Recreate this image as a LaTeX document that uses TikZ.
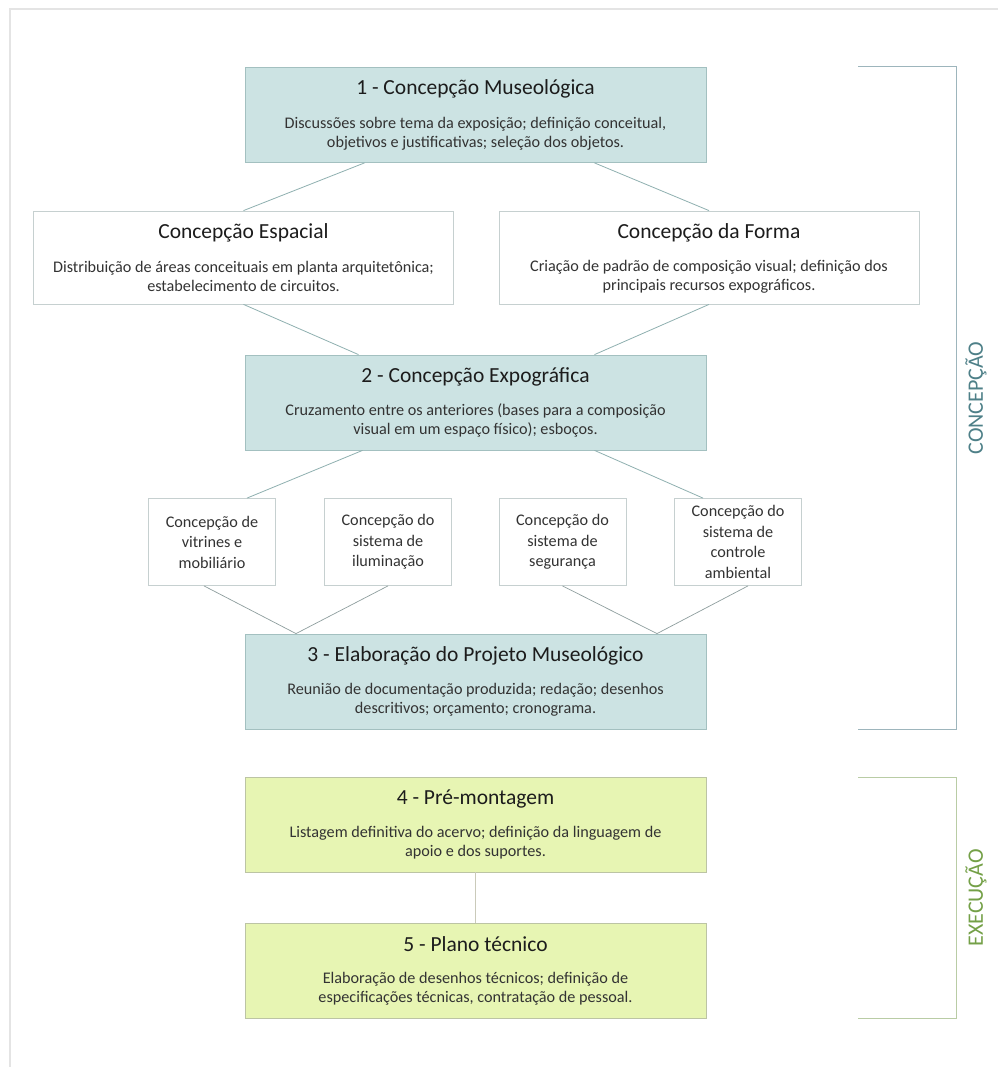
\documentclass[tikz,border=0pt]{standalone}
\usepackage{fontspec}
\setmainfont{Carlito}
\definecolor{bluefill}{HTML}{CCE3E3}
\definecolor{bluebd}{HTML}{A3C0C0}
\definecolor{greenfill}{HTML}{E7F5B3}
\definecolor{greenbd}{HTML}{BCC4A4}
\definecolor{whitebd}{HTML}{C6D0D0}
\definecolor{linkc}{HTML}{8FB0B0}
\definecolor{linkd}{HTML}{8E9E9E}
\definecolor{linke}{HTML}{CACABA}
\definecolor{framec}{HTML}{E4E4E4}
\definecolor{brkblue}{HTML}{9DB5BC}
\definecolor{brkgreen}{HTML}{B9CCA5}
\definecolor{conctxt}{HTML}{4E8088}
\definecolor{exectxt}{HTML}{74A047}
\definecolor{titletxt}{HTML}{1C1C1C}
\definecolor{bodytxt}{HTML}{333333}
\begin{document}
\begin{tikzpicture}[x=1pt,y=-1pt,
  boxbase/.style={inner sep=0pt, line width=0.8pt},
  bluebox/.style={boxbase, draw=bluebd, fill=bluefill, minimum width=461pt, minimum height=95pt},
  greenbox/.style={boxbase, draw=greenbd, fill=greenfill, minimum width=461pt, minimum height=95pt},
  widebox/.style={boxbase, draw=whitebd, fill=white, minimum width=420pt, minimum height=93pt},
  smallbox/.style={boxbase, draw=whitebd, fill=white, minimum width=127pt, minimum height=87pt,
     align=center, text=bodytxt, font=\fontsize{16.2}{20.5}\selectfont},
  titletext/.style={inner sep=0pt, text=titletxt, font=\fontsize{21.5}{25}\selectfont},
  bodytext/.style={inner sep=0pt, align=center, text=bodytxt, font=\fontsize{16.2}{19}\selectfont},
  linkup/.style={draw=linkc, line width=0.8pt},
  linklow/.style={draw=linkd, line width=0.7pt},
  brk/.style={line width=1pt},
  brklabel/.style={inner sep=0pt, rotate=90, font=\fontsize{22}{26}\selectfont}
]
\useasboundingbox (0,0) rectangle (998,1067);
\fill[white] (0,0) rectangle (998,1067);
\draw[framec, line width=1.6pt] (10,1067) -- (10,9) -- (998,9);

% boxes
\node[bluebox] (b1) at (475.5,115) {};
\node[titletext] (b1t) at ([yshift=-22pt]b1.north) {1 - Concepção Museológica};
\node[bodytext] (b1b) at ([yshift=-67pt]b1.north) {Discussões sobre tema da exposição; definição conceitual,\\objetivos e justificativas; seleção dos objetos.};

\node[widebox] (esp) at (243.5,257.5) {};
\node[titletext] (espt) at ([yshift=-22pt]esp.north) {Concepção Espacial};
\node[bodytext] (espb) at ([yshift=-66pt]esp.north) {Distribuição de áreas conceituais em planta arquitetônica;\\estabelecimento de circuitos.};

\node[widebox] (forma) at (709,257.5) {};
\node[titletext] (format) at ([yshift=-22pt]forma.north) {Concepção da Forma};
\node[bodytext] (formab) at ([yshift=-66pt]forma.north) {Criação de padrão de composição visual; definição dos\\principais recursos expográficos.};

\node[bluebox] (b2) at (475.5,402.5) {};
\node[titletext] (b2t) at ([yshift=-22pt]b2.north) {2 - Concepção Expográfica};
\node[bodytext] (b2b) at ([yshift=-66pt]b2.north) {Cruzamento entre os anteriores (bases para a composição\\visual em um espaço físico); esboços.};

\node[smallbox] (sa) at (212,542) {Concepção de\\vitrines e\\mobiliário};
\node[smallbox] (sb) at (388,542) {Concepção do\\sistema de\\iluminação};
\node[smallbox] (sc) at (562.5,542) {Concepção do\\sistema de\\segurança};
\node[smallbox] (sd) at (738,542) {Concepção do\\sistema de\\controle\\ambiental};

\node[bluebox] (b3) at (475.5,681.5) {};
\node[titletext] (b3t) at ([yshift=-22pt]b3.north) {3 - Elaboração do Projeto Museológico};
\node[bodytext] (b3b) at ([yshift=-66pt]b3.north) {Reunião de documentação produzida; redação; desenhos\\descritivos; orçamento; cronograma.};

\node[greenbox] (b4) at (475.5,824.5) {};
\node[titletext] (b4t) at ([yshift=-22pt]b4.north) {4 - Pré-montagem};
\node[bodytext] (b4b) at ([yshift=-66pt]b4.north) {Listagem definitiva do acervo; definição da linguagem de\\apoio e dos suportes.};

\node[greenbox] (b5) at (475.5,970.5) {};
\node[titletext] (b5t) at ([yshift=-22pt]b5.north) {5 - Plano técnico};
\node[bodytext] (b5b) at ([yshift=-66pt]b5.north) {Elaboração de desenhos técnicos; definição de\\especificações técnicas, contratação de pessoal.};

% connectors
\draw[linkup] ([xshift=-111pt]b1.south) -- (esp.north);
\draw[linkup] ([xshift=119pt]b1.south) -- (forma.north);
\draw[linkup] (esp.south) -- ([xshift=-117pt]b2.north);
\draw[linkup] (forma.south) -- ([xshift=119pt]b2.north);
\draw[linkup] ([xshift=-113pt]b2.south) -- ([xshift=35pt]sa.north);
\draw[linkup] ([xshift=119pt]b2.south) -- ([xshift=-35pt]sd.north);
\draw[linklow] ([xshift=-8pt]sa.south) -- ([xshift=-179.5pt]b3.north);
\draw[linklow] (sb.south) -- ([xshift=-179.5pt]b3.north);
\draw[linklow] (sc.south) -- ([xshift=181.5pt]b3.north);
\draw[linklow] ([xshift=10pt]sd.south) -- ([xshift=181.5pt]b3.north);
\draw[draw=linke, line width=1.2pt] (b4.south) -- (b5.north);

% brackets
\draw[brk, brkblue] (858,67) -- (956,67) -- (956,729) -- (858,729);
\node[brklabel, text=conctxt] (lconc) at (976,398) {CONCEPÇÃO};
\draw[brk, brkgreen] (858,777) -- (956,777) -- (956,1018) -- (858,1018);
\node[brklabel, text=exectxt] (lexec) at (976,898) {EXECUÇÃO};
\end{tikzpicture}
\end{document}
